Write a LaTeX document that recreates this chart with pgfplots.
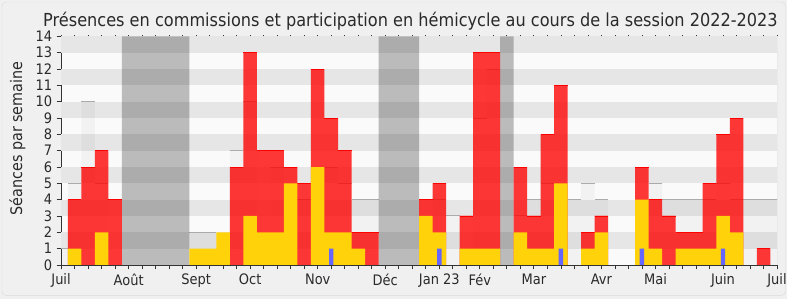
\documentclass[border=0pt]{standalone}
\usepackage{fontspec}
\setmainfont{DejaVu Sans}[FakeStretch=0.9]
\usepackage{pgfplots}
\pgfplotsset{compat=1.18}
\definecolor{bgc}{HTML}{F0F0F0}
\definecolor{bordc}{HTML}{DADADA}
\definecolor{bandw}{HTML}{FAFAFA}
\definecolor{bandg}{HTML}{E6E6E6}
\definecolor{medline}{HTML}{ABABAB}
\definecolor{yel}{HTML}{FFD20A}
\definecolor{blu}{HTML}{6666FF}
\definecolor{axc}{HTML}{333333}
\definecolor{txt}{HTML}{2A2A2A}
\begin{document}
\begin{tikzpicture}[x=1pt,y=1pt]
\fill[bgc] (0,0) rectangle (790,300);
\draw[bordc, rounded corners=4pt] (2,3.5) rectangle (788.5,298);
\node[anchor=base, text=txt, font=\fontsize{18}{21}\selectfont] at (412,273.3) {Présences en commissions et participation en hémicycle au cours de la session 2022-2023};
\node[rotate=90, text=txt, font=\fontsize{16}{19}\selectfont] at (17.5,161) {Séances par semaine};
\begin{axis}[
  at={(61.3pt,34pt)}, anchor=south west, scale only axis,
  width=718.7pt, height=229.5pt,
  xmin=0, xmax=53, ymin=0, ymax=14,
  axis background/.style={fill=bandw},
  axis lines*=left,
  axis line style={axc, line width=0.8pt},
  tick style={axc, line width=0.8pt},
  tick align=outside, major tick length=4.5pt,
  xtick={0,...,53}, xticklabels={},
  extra x ticks={0,5,10,14,19,24,28,31,35,40,44,49,53},
  extra x tick labels={Juil,Août,Sept,Oct,Nov,Déc,Jan 23,Fév,Mar,Avr,Mai,Juin,Juil},
  extra x tick style={tick style={axc}},
  ytick={0,...,14},
  /pgf/number format/assume math mode=true,
  ticklabel style={font=\fontsize{14.5}{16}\selectfont, text=txt},
  xticklabel style={yshift=-1pt},
  yticklabel style={xshift=-1pt},
  clip=true,
]
% stripes
\fill[bandg] (axis cs:0,1) rectangle (axis cs:53,2);
\fill[bandg] (axis cs:0,3) rectangle (axis cs:53,4);
\fill[bandg] (axis cs:0,5) rectangle (axis cs:53,6);
\fill[bandg] (axis cs:0,7) rectangle (axis cs:53,8);
\fill[bandg] (axis cs:0,9) rectangle (axis cs:53,10);
\fill[bandg] (axis cs:0,11) rectangle (axis cs:53,12);
\fill[bandg] (axis cs:0,13) rectangle (axis cs:53,14);
% median (gray) bars
\addplot[ybar, bar width=1, bar shift=0pt, fill=black, fill opacity=0.03, draw=none,
  error bars/.cd, x dir=both, x fixed=0.5, error mark=none,
  error bar style={medline, line width=1pt, opacity=1}]
  coordinates {(0,1)(1,5)(2,10)(3,5)(10,2)(11,2)(13,7)(14,10)(16,6)(18,4)(20,6)(21,5)(22,4)(23,4)
  (28,4)(29,3)(31,9)(32,12)(34,3)(35,4)(36,5)(38,4)(39,5)(40,4)
  (44,5)(45,4)(46,4)(47,4)(48,4)(49,5)(50,4)(51,4)(52,4)(53,4)};
% vacations
\addplot[ybar, bar width=1, bar shift=0pt, fill=black, fill opacity=0.25, draw=none]
  coordinates {(5,14)(6,14)(7,14)(8,14)(9,14)(24,14)(25,14)(26,14)(33,14)};
% commissions (red)
\addplot[ybar, bar width=1, bar shift=0pt, fill=red, fill opacity=0.78, draw=none,
  error bars/.cd, x dir=both, x fixed=0.5, error mark=none,
  error bar style={red, line width=0.9pt, opacity=1}]
  coordinates {(1,4)(2,6)(3,7)(4,4)(13,6)(14,13)(15,7)(16,7)(17,6)(18,5)(19,12)(20,9)(21,7)(22,2)(23,2)
  (27,4)(28,5)(30,3)(31,13)(32,13)(34,6)(35,3)(36,8)(37,11)(39,2)(40,3)
  (43,6)(44,4)(45,3)(46,2)(47,2)(48,5)(49,8)(50,9)(52,1)};
% hemicycle (yellow)
\addplot[ybar, bar width=1, bar shift=0pt, fill=yel, draw=none]
  coordinates {(1,1)(3,2)(10,1)(11,1)(12,2)(14,3)(15,2)(16,2)(17,5)(19,6)(20,2)(21,2)(22,1)
  (27,3)(28,2)(30,1)(31,1)(32,1)(34,2)(35,1)(36,1)(37,5)(39,1)(40,2)
  (43,4)(44,1)(46,1)(47,1)(48,1)(49,3)(50,2)};
% questions (blue)
\addplot[ybar, bar width=0.33, bar shift=0pt, fill=blu, draw=none]
  coordinates {(20,1)(28,1)(37,1)(43,1)(49,1)};
\draw[black!22, line width=0.8pt] (axis cs:53,0) -- (axis cs:53,14);
\end{axis}
\begin{axis}[
  at={(61.3pt,34pt)}, anchor=south west, scale only axis,
  width=718.7pt, height=229.5pt,
  xmin=0, xmax=53, ymin=0, ymax=14,
  hide y axis, axis x line*=top,
  x axis line style={draw=none},
  xtick={0,...,53}, xticklabels={},
  tick align=outside, major tick length=1.2pt,
  tick style={axc, line width=0.8pt},
]
\addplot[draw=none] coordinates {(0,0)(53,14)};
\end{axis}
\end{tikzpicture}
\end{document}
